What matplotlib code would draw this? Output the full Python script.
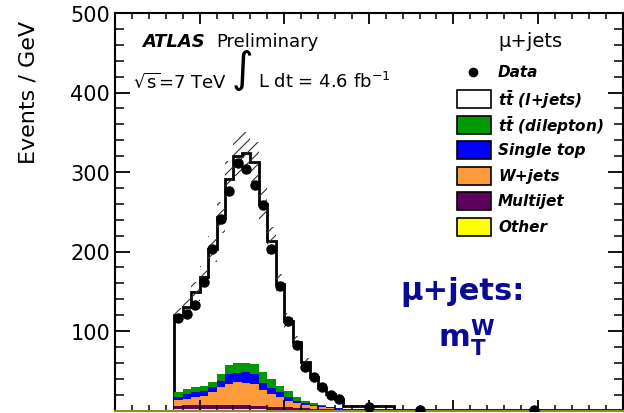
import numpy as np
import matplotlib.pyplot as plt
from matplotlib.ticker import MultipleLocator
from matplotlib.patches import Rectangle

# mT(W) binning [GeV], narrow bins then three wide ones
edges = [35, 40, 45, 50, 55, 60, 65, 70, 75, 80, 85, 90, 95, 100, 105, 110,
         115, 120, 125, 130, 135, 165, 195, 300]
centers = [37.5, 42.5, 47.5, 52.5, 57.5, 62.5, 67.5, 72.5, 77.5, 82.5, 87.5,
           92.5, 97.5, 102.5, 107.5, 112.5, 117.5, 122.5, 127.5, 132.5,
           150, 180, 247.5]

# events / GeV
data = [116, 121, 133, 162, 203, 241, 276, 311, 304, 284, 258, 203, 157, 113,
        82, 55, 42, 29, 20, 15, 4.0, 0.5, 0.4]

other = [1.5, 1.5, 1.5, 1.5, 1.5, 1.5, 1.5, 1.5, 1.5, 1.5, 1.4, 1.2, 1.0, 0.9,
         0.8, 0.6, 0.5, 0.4, 0.3, 0.3, 0.2, 0.1, 0.03]
multijet = [4.5, 5.0, 5.3, 5.3, 6.0, 5.5, 5.0, 4.8, 4.8, 4.5, 4.1, 3.8, 3.5,
            3.1, 2.7, 2.4, 2.0, 1.8, 1.5, 1.2, 0.6, 0.2, 0.05]
wjets = [6.8, 8.0, 9.8, 11.9, 16.2, 22.2, 27.0, 29.1, 28.3, 27.3, 20.0, 16.0,
         12.0, 8.5, 6.0, 4.5, 3.0, 1.8, 1.2, 0.7, 0.4, 0.2, 0.04]
single_top = [4.8, 6.0, 6.4, 5.8, 5.8, 7.8, 13.0, 12.1, 13.4, 12.6, 8.7, 7.0,
              6.5, 4.5, 3.0, 2.5, 2.0, 1.5, 1.0, 0.6, 0.3, 0.1, 0.03]
ttbar_dilep = [5.3, 6.5, 6.5, 6.8, 5.9, 8.9, 11.1, 11.8, 12.0, 12.6, 13.8,
               11.6, 8.2, 7.1, 4.9, 2.4, 1.5, 1.4, 0.8, 0.3, 0.3, 0.1, 0.03]
ttbar_ljets = [97, 103, 120, 137, 168, 197, 233, 261, 264, 254, 212, 174, 128,
               89, 69, 49, 33, 22, 16, 11.4, 3.5, 0.1, 0.07]
rel_unc = 0.08

labels = [r'$\mathbfit{t\bar{t}}$ (l+jets)', r'$\mathbfit{t\bar{t}}$ (dilepton)',
          'Single top', 'W+jets', 'Multijet', 'Other']
colors = ['white', '#009a00', '#0000ff', '#fd9a3c', '#5f005f', '#ffff00']

plt.rcParams['hatch.linewidth'] = 0.8

fig = plt.figure(figsize=(6.24, 4.14), dpi=100)
ax = fig.add_axes([115/624, 2.5/414, 507.5/624, 397.5/414])

# stack from bottom: other, multijet, W+jets, single top, dilepton, l+jets
stack = [other, multijet, wjets, single_top, ttbar_dilep, ttbar_ljets]
stack_cols = colors[::-1]
total = np.sum(np.array(stack), axis=0)

ax.stairs(total, edges, baseline=0, fill=True, facecolor='white', edgecolor='none')
ax.stairs(total, edges, baseline=0, color='black', lw=2)
base = np.zeros(len(total))
for vals, c in zip(stack[:-1], stack_cols[:-1]):
    top = base + np.array(vals)
    ax.stairs(top, edges, baseline=base, fill=True, facecolor=c, edgecolor=c, lw=0)
    base = top

# MC uncertainty band
ax.stairs(total * (1 + rel_unc), edges, baseline=total * (1 - rel_unc), fill=True,
          facecolor='none', edgecolor='#333333', hatch='///', lw=0)

ax.plot(centers, data, 'o', color='black', ms=6.5, zorder=5)

ax.set_xlim(0, 300)
ax.set_ylim(0, 500)
ax.xaxis.set_major_locator(MultipleLocator(50))
ax.xaxis.set_minor_locator(MultipleLocator(10))
ax.set_yticks([100, 200, 300, 400, 500])
ax.yaxis.set_minor_locator(MultipleLocator(20))
ax.tick_params(which='both', direction='in', top=True, right=True, labelbottom=False)
ax.tick_params(axis='y', which='major', length=11, width=1.3, labelsize=15, pad=3.5)
ax.tick_params(axis='y', which='minor', length=6.5, width=1.1)
ax.tick_params(axis='x', which='major', length=8, width=1.3)
ax.tick_params(axis='x', which='minor', length=4, width=1.1)
for s in ax.spines.values():
    s.set_linewidth(1.5)
ax.spines['bottom'].set_color('#8c8c28')

fig.text(28/624, 1 - 92.5/414, 'Events / GeV', rotation=90, ha='center',
         va='center', fontsize=16)

# ATLAS label
ax.text(0.0526, 0.916, 'ATLAS', fontsize=13, fontweight='bold', style='italic',
        transform=ax.transAxes, va='baseline')
ax.text(0.2002, 0.916, 'Preliminary', fontsize=13, transform=ax.transAxes,
        va='baseline')
ax.text(0.0354, 0.813, r'$\sqrt{\mathrm{s}}$=7 TeV', fontsize=13,
        transform=ax.transAxes, va='baseline')
ax.text(0.2297, 0.860, '\u222b', fontsize=30, transform=ax.transAxes, va='center')
ax.text(0.2821, 0.813, r'L dt = 4.6 fb$^{-1}$', fontsize=13,
        transform=ax.transAxes, va='baseline')

# legend, placed by hand in pixel rows like the original
def px(x, y):
    return (x - 115) / 507.5, (411.5 - y) / 397.5

ax.text(*px(530, 42), '\u03bc+jets', fontsize=14, ha='center', va='center',
        transform=ax.transAxes)
ax.plot(*px(473, 73), 'o', color='black', ms=6, transform=ax.transAxes,
        clip_on=False)
ax.text(*px(498, 73), 'Data', fontsize=11, fontweight='bold', style='italic',
        va='center', transform=ax.transAxes)
row_y = [100, 126, 151, 177, 202, 228]
for yy, c, lab in zip(row_y, colors, labels):
    x0, y0 = px(457, yy + 9)
    x1, y1 = px(491, yy - 9)
    ax.add_patch(Rectangle((x0, y0), x1 - x0, y1 - y0, facecolor=c,
                           edgecolor='black', lw=1.2, transform=ax.transAxes,
                           zorder=6))
    ax.text(*px(498, yy), lab, fontsize=11, fontweight='bold', style='italic',
            va='center', transform=ax.transAxes)

# big blue label
ax.text(0.685, 0.2805, '\u03bc+jets:', fontsize=22, fontweight='bold',
        color='#0a0a96', ha='center', va='baseline', transform=ax.transAxes)
ax.text(0.693, 0.163, r'$\mathbf{m_T^W}$', fontsize=22, color='#0a0a96',
        ha='center', va='baseline', transform=ax.transAxes)

fig.savefig('out.png', dpi=100)
